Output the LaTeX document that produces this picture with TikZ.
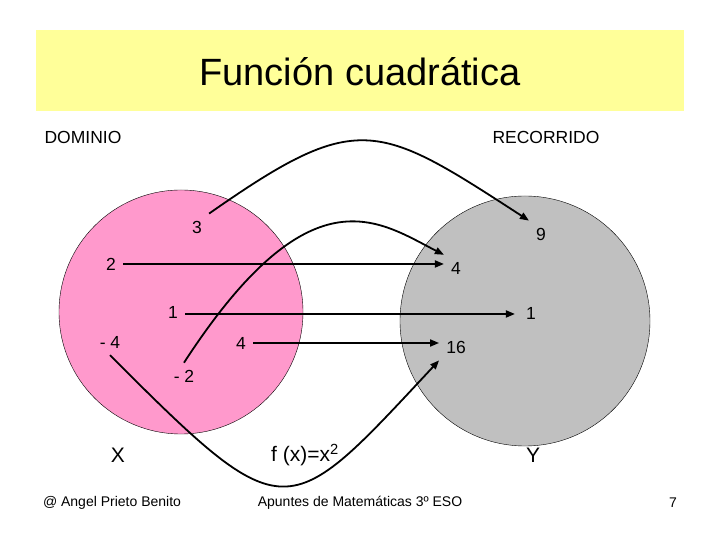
\documentclass[tikz,border=0pt]{standalone}
\usepackage{fontspec}
\setmainfont{Liberation Sans}
\usetikzlibrary{arrows.meta,positioning,calc}
\definecolor{cDom}{RGB}{255,153,204}
\definecolor{cRec}{RGB}{192,192,192}
\definecolor{cHead}{RGB}{255,255,153}

\begin{document}
\begin{tikzpicture}[x=1pt,y=1pt,
  num/.style={font=\fontsize{17.5}{20}\selectfont,inner sep=7pt},
  big/.style={font=\fontsize{21}{24}\selectfont},
  foot/.style={font=\fontsize{14}{16}\selectfont},
  map/.style={line width=1.8pt,-{Triangle[length=9pt,width=7pt]}}]
  \useasboundingbox (0,0) rectangle (720,540);
  % cabecera
  \fill[cHead] (36,429) rectangle (684,510);
  \node[font=\fontsize{38}{42}\selectfont] (titulo) at (360,468) {Función cuadrática};
  \node[num] (dominio) at (83,403) {DOMINIO};
  \node[num] (recorrido) at (546,403) {RECORRIDO};
  % conjuntos
  \filldraw[fill=cDom,draw=black,thin] (181,228) circle (122);
  \filldraw[fill=cRec,draw=black,thin] (525,219) circle (125);
  % elementos
  \node[num] (d3) at (197,313) {3};
  \node[num] (d2) at (111,276) {2};
  \node[num] (d1) at (173,228) {1};
  \node[num] (dm4) at (110,198) {- 4};
  \node[num] (d4) at (241,197) {4};
  \node[num] (dm2) at (184,164) {- 2};
  \node[num] (r9) at (541,306) {9};
  \node[num] (r4) at (456,272) {4};
  \node[num] (r1) at (531,227) {1};
  \node[num] (r16) at (456,193) {16};
  % flechas
  \draw[map] (d2.east) -- (d2.east -| r4.west);
  \draw[map] ($(d1.east)+(0,-2)$) -- ($(d1.east -| r1.west)+(-4,-2)$);
  \draw[map] (d4.east) -- (d4.east -| r16.west);
  \draw[map] (d3.north east) to[out=35,in=147,looseness=1.45] (r9.north west);
  \draw[map] (dm2.north) to[out=57,in=153,out distance=232,in distance=73] (r4.north west);
  \draw[map] (dm4.south) to[out=-45,in=227,out distance=250,in distance=225] (r16.south west);
  % pie
  \node[big] (xx) at (118,85) {X};
  \node[big] (fx) at (305,85) {f (x)=x\textsuperscript{2}};
  \node[big] (yy) at (533,85) {Y};
  \node[foot] (autor) at (112,37) {@ Angel Prieto Benito};
  \node[foot] (apuntes) at (360,37) {Apuntes de Matemáticas 3º ESO};
  \node[foot] (pag) at (673,37) {7};
\end{tikzpicture}
\end{document}
